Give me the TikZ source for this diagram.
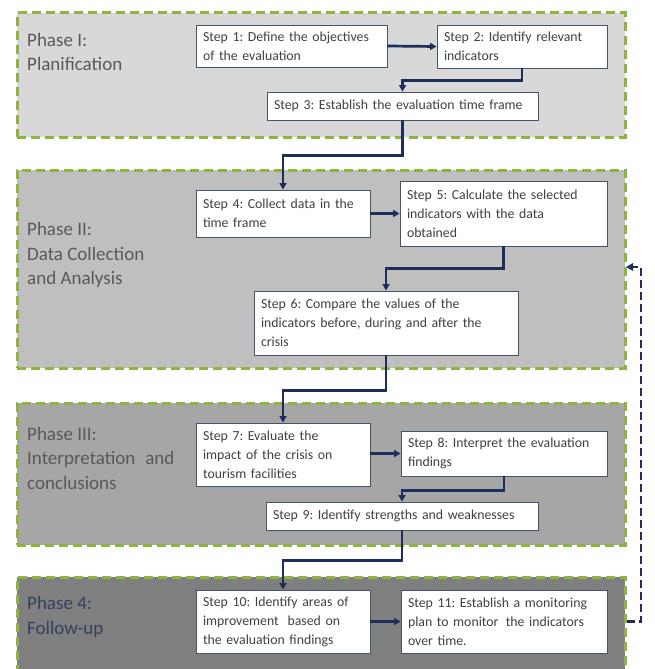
\documentclass[tikz,border=0pt]{standalone}
\usepackage{fontspec}
\setmainfont{Carlito}
\frenchspacing
\usetikzlibrary{arrows.meta}
\definecolor{lime}{HTML}{8DB43C}
\definecolor{navy}{HTML}{1F2D5A}
\definecolor{boxline}{HTML}{44546A}
\definecolor{txt}{HTML}{404040}
\definecolor{phtxt}{HTML}{595959}
\definecolor{phnavy}{HTML}{34405F}
\definecolor{pfa}{HTML}{D8D8D8}
\definecolor{pfb}{HTML}{BFBFBF}
\definecolor{pfc}{HTML}{A6A6A6}
\definecolor{pfd}{HTML}{7F7F7F}
\tikzset{
  phasebox/.style={draw=lime, line width=3pt, dash pattern=on 9pt off 5pt, minimum width=608pt, inner sep=0pt},
  phaselabel/.style={anchor=west, align=left, inner sep=0pt, text=phtxt, font=\fontsize{19}{24.5}\selectfont},
  stepbox/.style={draw=boxline, line width=0.9pt, fill=white, inner xsep=7pt, inner ysep=2pt, align=left, text=txt, font=\fontsize{13.8}{19}\selectfont},
  arr/.style={draw=navy, line width=2.7pt, -{Triangle[length=6.5pt,width=7pt]}},
  fb/.style={draw=navy, line width=2.9pt, dash pattern=on 8pt off 4pt, -{Triangle[length=7pt,width=7.5pt]}}
}
\begin{document}
\begin{tikzpicture}[x=1pt,y=-1pt]
\useasboundingbox (0,0) rectangle (655,669);
\clip (0,0) rectangle (655,669);
\fill[white] (0,0) rectangle (655,669);
% phases
\node[phasebox, fill=pfa, minimum height=124pt] (p1) at (321,75) {};
\node[phasebox, fill=pfb, minimum height=198pt] (p2) at (321,269) {};
\node[phasebox, fill=pfc, minimum height=142pt] (p3) at (321,474) {};
\node[phasebox, fill=pfd, minimum height=110pt] (p4) at (321,632) {};
\node[phaselabel] (l1) at (27,52) {Phase I:\\Planification};
\node[phaselabel] (l2) at (27,255) {Phase II:\\Data Collection\\and Analysis};
\node[phaselabel] (l3) at (27,458) {Phase III:\\Interpretation\hspace{0.3em} and\\conclusions};
\node[phaselabel, text=phnavy] (l4) at (27,617) {Phase 4:\\Follow-up};
% steps
\node[stepbox, text width=177pt, minimum height=42pt] (s1) at (291.5,46) {Step 1: Define the objectives\\of the evaluation};
\node[stepbox, text width=156pt, minimum height=43pt] (s2) at (522,46.5) {Step 2: Identify relevant\\indicators};
\node[stepbox, text width=257pt, minimum height=28pt] (s3) at (402.5,106) {Step 3: Establish the evaluation time frame};
\node[stepbox, text width=160pt, minimum height=47pt] (s4) at (283,213.5) {Step 4: Collect data in the\\time frame};
\node[stepbox, text width=193pt, minimum height=65pt] (s5) at (503.5,213.5) {Step 5: Calculate the selected\\indicators with the data\\obtained};
\node[stepbox, text width=250pt, minimum height=64pt] (s6) at (386,323) {Step 6: Compare the values of the\\indicators before, during and after the\\crisis};
\node[stepbox, text width=160pt, minimum height=63pt] (s7) at (283,454.5) {Step 7: Evaluate the\\impact of the crisis on\\tourism facilities};
\node[stepbox, text width=192pt, minimum height=45pt] (s8) at (504,453.5) {Step 8: Interpret the evaluation\\findings};
\node[stepbox, text width=258pt, minimum height=28pt] (s9) at (402,516) {Step 9: Identify strengths and weaknesses};
\node[stepbox, text width=160pt, minimum height=63pt] (s10) at (283,621.5) {Step 10: Identify areas of\\improvement\hspace{0.3em} based on\\the evaluation findings};
\node[stepbox, text width=192pt, minimum height=63pt] (s11) at (504,621.5) {Step 11: Establish a monitoring\\plan to monitor\hspace{0.2em} the indicators\\over time.};
% connectors
\draw[arr] (s1.east) -- (s2.west);
\draw[arr] (s2.south) -- ++(0,12) -| (s3.north);
\draw[arr] (s3.south) -- ++(0,35) -| (s4.north);
\draw[arr] (s4.east) -- (s5.west);
\draw[arr] (s5.south) -- ++(0,22) -| (s6.north);
\draw[arr] (s6.south) -- ++(0,35) -| (s7.north);
\draw[arr] (s7.east |- s8.west) -- (s8.west);
\draw[arr] (s8.south) -- ++(0,14) -| (s9.north);
\draw[arr] (s9.south) -- ++(0,30) -| (s10.north);
\draw[arr] (s10.east) -- (s11.west);
\coordinate (fbs) at (p4.east |- s11.east);
\coordinate (fbe) at (626,267);
\draw[fb] (fbs) -- (641,621.5) |- (fbe);
\end{tikzpicture}
\end{document}
